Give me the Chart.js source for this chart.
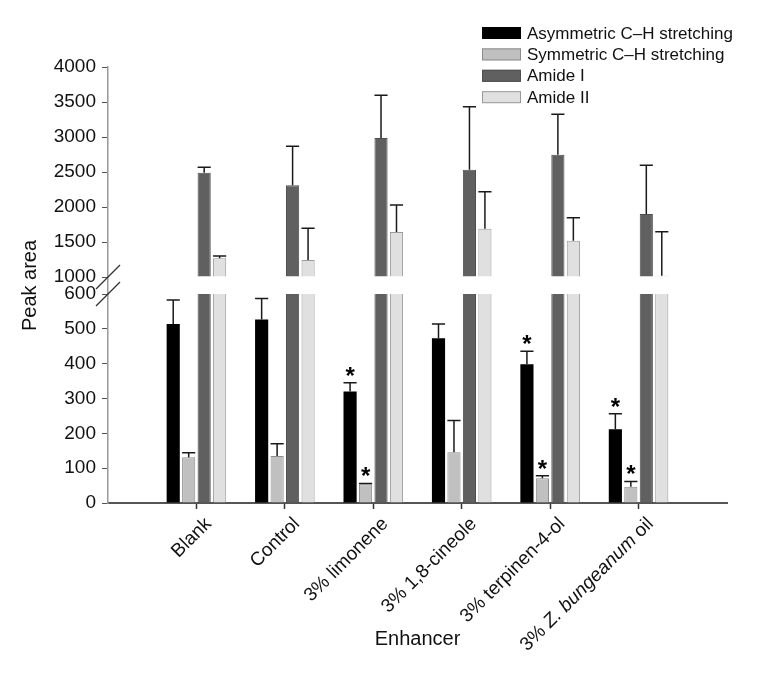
<!DOCTYPE html>
<html>
<head>
<meta charset="utf-8">
<script src="https://cdn.jsdelivr.net/npm/chart.js@4.4.1/dist/chart.umd.min.js"></script>
<style>
  html, body { margin: 0; padding: 0; background: #fff; }
  #wrap { width: 776px; height: 675px; position: relative; }
</style>
</head>
<body>
<div id="wrap"><canvas id="graficoBarras"></canvas></div>
<script>
// Data
const categories = ['Blank', 'Control', '3% limonene', '3% 1,8-cineole', '3% terpinen-4-ol', '3% Z. bungeanum oil'];
const italicPart = 'Z. bungeanum';
const seriesNames = ['Asymmetric C\u2013H stretching', 'Symmetric C\u2013H stretching', 'Amide I', 'Amide II'];

const asymValues = [514, 527, 320, 473, 398, 212];
const asymErrors = [69, 60, 25, 41, 38, 44];
const asymStars  = [false, false, true, false, true, true];

const symValues = [131, 135, 54, 146, 71, 47];
const symErrors = [13, 35, 2, 91, 7, 15];
const symStars  = [false, false, true, false, true, true];

const amide1Values = [2490, 2310, 2986, 2533, 2748, 1900];
const amide1Errors = [77, 557, 610, 900, 576, 695];

const amide2Values = [1267, 1243, 1643, 1690, 1519, 1019];
const amide2Errors = [33, 453, 386, 529, 329, 628];

const lowerTicks = [0, 100, 200, 300, 400, 500, 600];
const upperTicks = [1000, 1500, 2000, 2500, 3000, 3500, 4000];

const colors  = ['#000000', '#c0c0c0', '#606060', '#e0e0e0'];
const borders = ['#000000', '#8c8c8c', '#4e4e4e', '#9a9a9a'];

// -------------------------------------------------------
// one empty slot each side, like the original axis
const pad = arr => [null, ...arr, null];
const labels = ['', ...categories, ''];

const FONT = "'Liberation Sans', Arial, Helvetica, sans-serif";
Chart.defaults.font.family = FONT;
Chart.defaults.color = '#111';

function barSet(i, values, axis, extra) {
  return Object.assign({
    label: seriesNames[i],
    data: pad(values),
    yAxisID: axis,
    stack: 's' + i,
    backgroundColor: colors[i],
    borderColor: borders[i],
    borderWidth: i === 0 ? 0 : 1,
    borderSkipped: 'start',
    categoryPercentage: 0.70,
    barPercentage: 0.85
  }, extra || {});
}

const datasets = [
  barSet(0, asymValues, 'yLow', { errors: pad(asymErrors), stars: pad(asymStars) }),
  barSet(1, symValues, 'yLow', { errors: pad(symErrors), stars: pad(symStars) }),
  barSet(2, amide1Values, 'yLow'),
  barSet(3, amide2Values, 'yLow'),
  barSet(2, amide1Values, 'yHigh', { base: 1000, errors: pad(amide1Errors) }),
  barSet(3, amide2Values, 'yHigh', { base: 1000, errors: pad(amide2Errors) })
];

// -------------------------------------------------------
// Error bars + stars
const errorBars = {
  id: 'errorBars',
  afterDatasetsDraw(chart) {
    const ctx = chart.ctx;
    chart.data.datasets.forEach((ds, di) => {
      if (!ds.errors) return;
      const meta = chart.getDatasetMeta(di);
      const yScale = chart.scales[ds.yAxisID];
      meta.data.forEach((bar, i) => {
        const v = ds.data[i], e = ds.errors[i];
        if (v == null || e == null) return;
        const yTop = yScale.getPixelForValue(v + e);
        const half = bar.width / 2;
        ctx.save();
        ctx.strokeStyle = '#1a1a1a';
        ctx.lineWidth = 1.5;
        ctx.beginPath();
        ctx.moveTo(bar.x, bar.y);
        ctx.lineTo(bar.x, yTop);
        ctx.moveTo(bar.x - half, yTop);
        ctx.lineTo(bar.x + half, yTop);
        ctx.stroke();
        if (ds.stars && ds.stars[i]) {
          ctx.fillStyle = '#000';
          ctx.font = 'bold 24px ' + FONT;
          ctx.textAlign = 'center';
          ctx.textBaseline = 'alphabetic';
          ctx.fillText('*', bar.x, yTop + 1);
        }
        ctx.restore();
      });
    });
  }
};

// -------------------------------------------------------
// Axis break marks, rotated x labels, legend
const extras = {
  id: 'extras',
  afterDraw(chart) {
    const ctx = chart.ctx;
    const yLow = chart.scales.yLow, yHigh = chart.scales.yHigh, x = chart.scales.x;
    const ax = chart.chartArea.left;

    // break //
    ctx.save();
    ctx.strokeStyle = '#333';
    ctx.lineWidth = 1.2;
    [yHigh.bottom, yLow.top].forEach(cy => {
      ctx.beginPath();
      ctx.moveTo(ax - 12, cy + 12);
      ctx.lineTo(ax + 12, cy - 12);
      ctx.stroke();
    });
    ctx.restore();

    // x labels
    ctx.save();
    ctx.fillStyle = '#111';
    ctx.textBaseline = 'middle';
    ctx.textAlign = 'left';
    categories.forEach((cat, i) => {
      const px = x.getPixelForValue(i + 1);
      const py = x.top + 18;
      let parts = [[cat, false]];
      const k = cat.indexOf(italicPart);
      if (k >= 0) {
        parts = [[cat.slice(0, k), false], [italicPart, true], [cat.slice(k + italicPart.length), false]];
      }
      let total = 0;
      parts.forEach(p => {
        ctx.font = (p[1] ? 'italic ' : '') + '19px ' + FONT;
        p.push(ctx.measureText(p[0]).width);
        total += p[2];
      });
      ctx.save();
      ctx.translate(px + 12, py);
      ctx.rotate(-Math.PI / 4);
      let cx = -total;
      parts.forEach(p => {
        ctx.font = (p[1] ? 'italic ' : '') + '19px ' + FONT;
        ctx.fillText(p[0], cx, 0);
        cx += p[2];
      });
      ctx.restore();
    });
    ctx.restore();

    // legend
    const lg = chart.options.plugins.extras;
    ctx.save();
    ctx.font = '17px ' + FONT;
    ctx.textBaseline = 'middle';
    ctx.textAlign = 'left';
    seriesNames.forEach((name, i) => {
      const cy = lg.top + i * lg.step;
      ctx.fillStyle = colors[i];
      ctx.fillRect(lg.left, cy - lg.boxH / 2, lg.boxW, lg.boxH);
      if (i > 0) {
        ctx.strokeStyle = borders[i];
        ctx.lineWidth = 1;
        ctx.strokeRect(lg.left + 0.5, cy - lg.boxH / 2 + 0.5, lg.boxW - 1, lg.boxH - 1);
      }
      ctx.fillStyle = '#111';
      ctx.fillText(name, lg.left + lg.boxW + 6, cy + 1);
    });
    ctx.restore();
  }
};

const yWidth = s => { s.width = 94; };
const plainTick = v => String(v);

const ctx = document.getElementById('graficoBarras').getContext('2d');
const grafico = new Chart(ctx, {
  type: 'bar',
  data: { labels: labels, datasets: datasets },
  options: {
    responsive: true,
    maintainAspectRatio: false,
    animation: false,
    layout: { padding: { top: 67, left: 14, right: 49, bottom: 0 } },
    plugins: {
      legend: { display: false },
      tooltip: { enabled: false },
      extras: { left: 482, top: 33, step: 21.4, boxW: 39, boxH: 12 }
    },
    scales: {
      x: {
        offset: false,
        grid: {
          offset: false,
          drawOnChartArea: false,
          tickLength: 6,
          tickWidth: 1.5,
          tickColor: c => (c.index === 0 || c.index === labels.length - 1) ? 'rgba(0,0,0,0)' : '#333'
        },
        border: { color: '#555', width: 2 },
        ticks: { display: false, autoSkip: false },
        title: {
          display: true, text: 'Enhancer',
          font: { size: 20 }, color: '#111',
          padding: { top: 0, bottom: 24 }
        },
        afterFit: s => { s.height = 172; }
      },
      yLow: {
        type: 'linear', position: 'left', stack: 'y', stackWeight: 209,
        min: 0, max: 600,
        afterBuildTicks: s => { s.ticks = lowerTicks.map(v => ({ value: v })); },
        ticks: { font: { size: 19 }, color: '#111', padding: 6, autoSkip: false, callback: plainTick },
        grid: { drawOnChartArea: false, tickLength: 6, tickColor: '#555' },
        border: { color: '#9a9a9a', width: 1.5 },
        afterFit: yWidth
      },
      yGap: {
        type: 'linear', position: 'left', stack: 'y', stackWeight: 17,
        min: 0, max: 1,
        ticks: { display: false },
        grid: { drawOnChartArea: false, drawTicks: false },
        border: { color: '#9a9a9a', width: 1.5 },
        title: {
          display: true, text: 'Peak area',
          font: { size: 20 }, color: '#111',
          padding: { top: 4, bottom: 0 }
        },
        afterFit: yWidth
      },
      yHigh: {
        type: 'linear', position: 'left', stack: 'y', stackWeight: 210,
        min: 1000, max: 4000,
        afterBuildTicks: s => { s.ticks = upperTicks.map(v => ({ value: v })); },
        ticks: { font: { size: 19 }, color: '#111', padding: 6, autoSkip: false, callback: plainTick },
        grid: { drawOnChartArea: false, tickLength: 6, tickColor: '#555' },
        border: { color: '#9a9a9a', width: 1.5 },
        afterFit: yWidth
      }
    }
  },
  plugins: [errorBars, extras]
});
</script>
</body>
</html>
